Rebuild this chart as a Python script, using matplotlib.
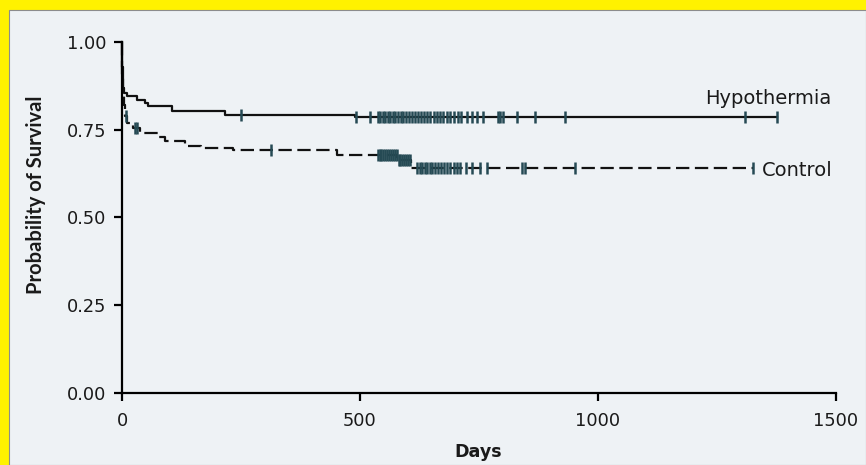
import numpy as np
import matplotlib
matplotlib.use('Agg')
import matplotlib.pyplot as plt
from matplotlib.patches import Rectangle

# Kaplan-Meier steps (days, survival)
hypo_t = [0, 1, 2, 3, 5, 10, 31, 48, 55, 104, 216, 490]
hypo_s = [1.0, 0.93, 0.89, 0.87, 0.855, 0.846, 0.835, 0.825, 0.818, 0.802, 0.792, 0.785]
hypo_end = 1375
hypo_cens = [251, 492, 521, 537, 542, 548, 553, 558, 563, 569, 574, 580, 586, 591,
             597, 603, 609, 615, 622, 628, 634, 641, 648, 655, 662, 668, 675, 682,
             690, 697, 705, 712, 724, 735, 745, 759, 790, 795, 800, 829, 868, 931,
             1309, 1375]

ctrl_t = [0, 1, 2, 4, 7, 10, 23, 38, 76, 90, 132, 167, 233, 451, 578, 607]
ctrl_s = [1.0, 0.90, 0.85, 0.82, 0.79, 0.768, 0.755, 0.742, 0.730, 0.718, 0.704,
          0.697, 0.692, 0.678, 0.664, 0.640]
ctrl_end = 1326
ctrl_cens = [8, 27, 32, 314, 537, 541, 545, 549, 553, 557, 561, 565, 569, 573, 577,
             581, 585, 589, 593, 597, 601, 605, 620, 625, 630, 636, 641, 647, 652,
             658, 664, 670, 676, 683, 690, 697, 704, 710, 723, 735, 752, 766, 840,
             847, 952, 1326]

xticks = [0, 500, 1000, 1500]
yticks = [0.0, 0.25, 0.5, 0.75, 1.0]

plt.rcParams['font.family'] = ['DejaVu Sans']

fig = plt.figure(figsize=(8.66, 4.65), dpi=100)
fig.patch.set_facecolor('#fff200')
fig.patches.append(Rectangle((9 / 866, 0), 1 - 9 / 866, 455 / 465,
                             transform=fig.transFigure, facecolor='#eef2f5',
                             edgecolor='#8c8c8c', lw=0.8, zorder=-10))

ax = fig.add_axes([122 / 866, 72 / 465, 714 / 866, 351 / 465])
ax.set_facecolor('none')


def km(t, s, end):
    return list(t) + [end], list(s) + [s[-1]]


def at(t, s, x):
    t = np.asarray(t)
    s = np.asarray(s)
    return s[np.searchsorted(t, x, side='right') - 1]


x, y = km(hypo_t, hypo_s, hypo_end)
ax.plot(x, y, drawstyle='steps-post', color='#111111', lw=1.6, clip_on=False)
x, y = km(ctrl_t, ctrl_s, ctrl_end)
ax.plot(x, y, drawstyle='steps-post', color='#111111', lw=1.6,
        linestyle=(0, (6, 2.5)), clip_on=False)

ax.plot(hypo_cens, at(hypo_t, hypo_s, hypo_cens), '|', color='#254a54',
        ms=8, mew=1.8)
ax.plot(ctrl_cens, at(ctrl_t, ctrl_s, ctrl_cens), '|', color='#254a54',
        ms=8, mew=1.8)

ax.text(1225, 0.838, 'Hypothermia', fontsize=14, va='center', ha='left',
        color='#1a1a1a')
ax.text(1345, 0.635, 'Control', fontsize=14, va='center', ha='left',
        color='#1a1a1a')

ax.set_xlim(0, 1500)
ax.set_ylim(0, 1)
ax.set_xticks(xticks)
ax.set_xticklabels(['0', '500', '1000', '1500'])
ax.set_yticks(yticks)
ax.set_yticklabels(['0.00', '0.25', '0.50', '0.75', '1.00'])
for s in ['top', 'right']:
    ax.spines[s].set_visible(False)
for s in ['left', 'bottom']:
    ax.spines[s].set_linewidth(1.6)
ax.tick_params(direction='out', length=6, width=1.6, labelsize=12.8,
               labelcolor='#1a1a1a')
ax.tick_params(axis='y', pad=5)
ax.tick_params(axis='x', pad=7.5)

ax.set_xlabel('Days', fontsize=12.6, fontweight='bold', va='center',
              color='#1a1a1a')
ax.set_ylabel('Probability of Survival', fontsize=14.5, fontweight='bold',
              family='Lato', va='center', color='#1a1a1a')
ax.xaxis.set_label_coords(0.4986, -0.168)
ax.yaxis.set_label_coords(-0.1204, 0.565)

fig.savefig('out.png', dpi=100, facecolor=fig.get_facecolor())
